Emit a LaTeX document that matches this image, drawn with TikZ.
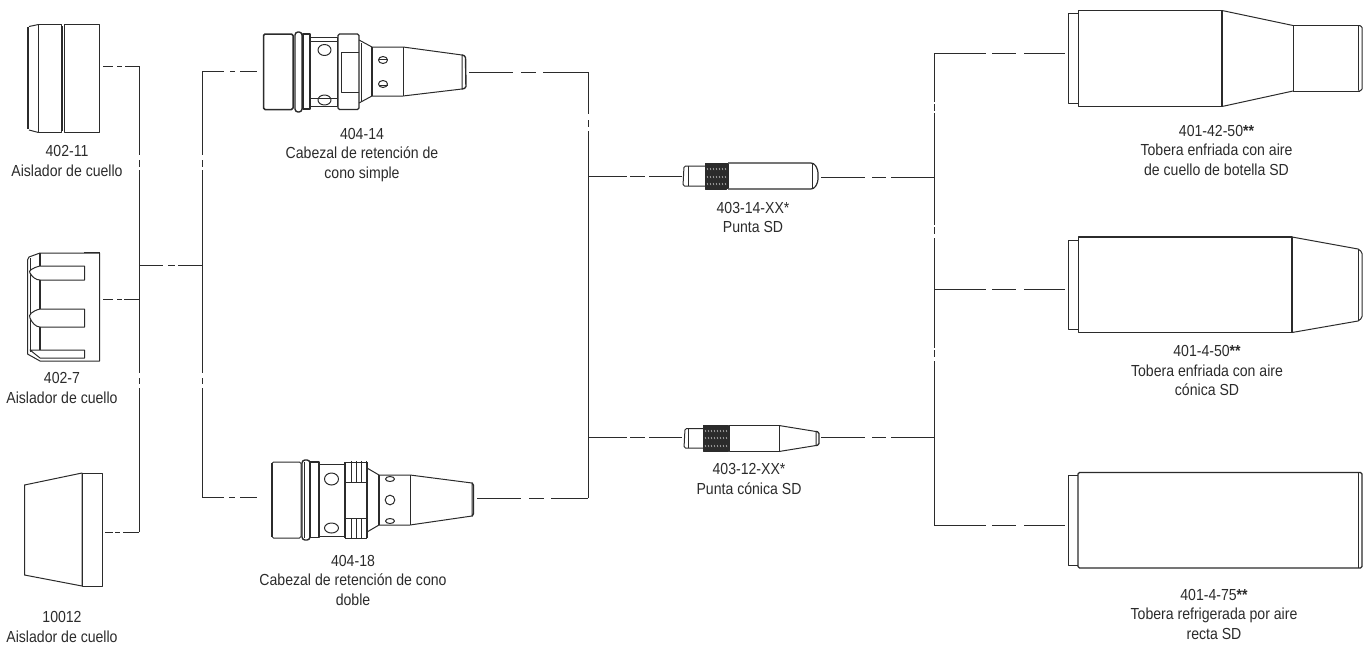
\documentclass[tikz,border=0pt]{standalone}
\usepackage{fontspec}
\setmainfont[FakeStretch=0.88]{Liberation Sans}
\usetikzlibrary{calc}
\definecolor{ink}{HTML}{2B2B2B}
\tikzset{
  cable/.style={ink,line width=.85pt},
  part/.style={ink,line width=1pt,line join=round},
  heavy/.style={ink,line width=1.9pt},
  tag/.style={align=center,text=ink,font=\fontsize{16}{19.5}\selectfont,inner sep=0pt},
  gapline/.style n args={4}{dash pattern=on #1pt off #2pt on #3pt off #4pt on 999pt},
  thread/.style={fill=ink,draw=ink,line width=.8pt}
}
\begin{document}
\begin{tikzpicture}[x=1pt,y=-1pt]
\useasboundingbox (0,0) rectangle (1367,646);
% connector ends
\coordinate(A) at (103,66);
\coordinate(B) at (103,299);
\coordinate(C) at (105,532);
\coordinate(Hs) at (257,71);
\coordinate(Hd) at (257,497);
\coordinate(HsR) at (469,72);
\coordinate(HdR) at (477,498);
\coordinate(PsL) at (682,176);
\coordinate(PcL) at (682,437);
\coordinate(PsR) at (821,177);
\coordinate(PcR) at (821,437);
\coordinate(Ta) at (1065,53);
\coordinate(Tb) at (1065,289);
\coordinate(Tc) at (1065,525.5);
\coordinate(J1t) at (139,66);
\coordinate(J1s) at (139,299);
\coordinate(J1m) at (139,265);
\coordinate(J1b) at (139,532);
\coordinate(J2t) at (202,71);
\coordinate(J2m) at (202,265);
\coordinate(J2b) at (202,497);
\coordinate(J3t) at (588,72);
\coordinate(J3a) at (588,176);
\coordinate(J3c) at (588,437);
\coordinate(J3b) at (588,498);
\coordinate(J4t) at (934,53);
\coordinate(J4a) at (934,177);
\coordinate(J4m) at (934,289);
\coordinate(J4c) at (934,437);
\coordinate(J4b) at (934,525.5);
% buses
\draw[cable,dash pattern=on 89pt off 5pt on 7pt off 3pt on 203pt off 5pt on 6pt off 4pt on 999pt] (J1t) -- (J1b);
\draw[cable,dash pattern=on 84pt off 5pt on 7pt off 3pt on 203pt off 5pt on 6pt off 4pt on 999pt] (J2t) -- (J2b);
\draw[cable,gapline={42}{6}{7}{4}] (J3t) -- (J3b);
\draw[cable,dash pattern=on 49pt off 2pt on 7pt off 2pt on 112pt off 2pt on 7pt off 4pt on 110pt off 2pt on 7pt off 4pt on 999pt] (J4t) -- (J4b);
% branches
\draw[cable,gapline={10}{4}{5}{3}] (A) -- (J1t);
\draw[cable,gapline={10}{4}{5}{2}] (B) -- (J1s);
\draw[cable,gapline={8}{2}{5}{3}] (C) -- (J1b);
\draw[cable,gapline={24}{5}{7}{3}] (J1m) -- (J2m);
\draw[cable,gapline={22}{6}{5}{5}] (J2t) -- (Hs);
\draw[cable,gapline={22}{5}{6}{5}] (J2b) -- (Hd);
\draw[cable,gapline={44}{8}{15}{7}] (HsR) -- (J3t);
\draw[cable,gapline={44}{8}{15}{7}] (HdR) -- (J3b);
\draw[cable,gapline={39}{3}{15}{4}] (J3a) -- (PsL);
\draw[cable,gapline={39}{3}{15}{4}] (J3c) -- (PcL);
\draw[cable,gapline={44}{7}{14}{5}] (PsR) -- (J4a);
\draw[cable,gapline={44}{7}{14}{5}] (PcR) -- (J4c);
\draw[cable,gapline={52}{6}{24}{8}] (J4t) -- (Ta);
\draw[cable,gapline={52}{6}{24}{8}] (J4m) -- (Tb);
\draw[cable,gapline={52}{6}{24}{8}] (J4b) -- (Tc);
% 402-11
\draw[part] (38.5,24.5) -- (61,24.5) -- (61,132.5) -- (38.5,132.5) -- cycle;
\draw[part] (64,24.5) rectangle (99.5,132.5);
\draw[part] (38.5,24.5) -- (29,26.5) (38.5,132.5) -- (29,130);
\draw[heavy] (27.8,27) -- (27.8,129);
\draw[heavy] (62.3,26) -- (62.3,131);
\draw[heavy] (99.5,25) -- (99.5,132);
% 402-7
\draw[part] (40,253) -- (29,257) -- (27.5,260) -- (27.5,354) -- (40,361) -- (99.5,361) -- (99.5,253) -- cycle;
\draw[part] (30,258) -- (30,352);
\draw[part] (84.5,253) -- (84.5,252) -- (99.5,252);
\draw[part,fill=white] (84.5,266) -- (40,266) .. controls (32,268) and (28,271) .. (30,273) .. controls (32,277) and (36,280) .. (40,280) -- (84.5,280) -- cycle;
\draw[part,fill=white] (84.5,309) -- (40,309) .. controls (32,311) and (28,315) .. (30,318) .. controls (32,323) and (36,327) .. (40,327) -- (84.5,327) -- cycle;
\draw[part,fill=white] (84.5,350) -- (30,350) -- (40,358) -- (84.5,358) -- cycle;
\draw[heavy] (40,253) -- (40,266) (40,280) -- (40,309) (40,327) -- (40,350);
\draw[heavy] (99.5,252) -- (99.5,361);
% 10012
\draw[part] (24.5,485) -- (82,473) -- (82,586) -- (24.5,575) -- cycle;
\draw[part] (82,473) rectangle (102.5,586);
% 404-14
\begin{scope}[part]
\draw[rounded corners=1.5pt,line width=1.5pt] (263.5,34) rectangle (293,109.5);
\draw[rounded corners=3pt,line width=1.4pt] (295,32) rectangle (302,112);
\draw[line width=1.4pt] (303,34) rectangle (310,109);
\draw (310,37) rectangle (337.5,106);
\draw (311,41) -- (337,41) (311,98) -- (337,98);
\draw (324.5,50) ellipse (6.5 and 5.5);
\draw (324.5,100) ellipse (6.5 and 5);
\draw[rounded corners=1.5pt,line width=1.4pt] (338,34) rectangle (359,109.5);
\draw (359,52) -- (341,52) -- (341,92) -- (359,92);
\draw (359,40) -- (372,47) (372,96) -- (359,103);
\draw (361,43) -- (361,101);
\draw[line width=1.4pt] (372,47) -- (372,96);
\draw (372,47) -- (403,47) -- (462,55) -- (462,89) -- (403,96) -- (372,96);
\draw (403,47) -- (403,96);
\draw[rounded corners=1.5pt,line width=1.4pt] (462,55) -- (465.5,56) -- (466,88) -- (462,89);
\draw (383,60) ellipse (4.5 and 3.5);
\draw (383,84) ellipse (4.5 and 3.5);
\draw (378.5,59) -- (387.5,59) (378.5,85) -- (387.5,85);
\end{scope}
% 404-18
\begin{scope}[part]
\draw[rounded corners=1.5pt] (272,462) rectangle (301,538);
\draw[heavy] (272,463) -- (272,537);
\draw[rounded corners=3pt,line width=1.4pt] (302,460) rectangle (310,540);
\draw (304.5,462) -- (304.5,538);
\draw[line width=1.4pt] (310,462) rectangle (319,537.5);
\draw (319,464) rectangle (345,536);
\draw (331.5,479) ellipse (7 and 6);
\draw (331.5,528) ellipse (7 and 5);
\draw[line width=1.4pt] (345,462) -- (345,538);
\foreach \xr in {351,356,361,366} {
  \draw (\xr,461) -- (\xr,482) (\xr,518) -- (\xr,539);
}
\draw (345,462) -- (367,462) (345,538) -- (367,538);
\draw (345,482) -- (367,482) (345,518) -- (367,518);
\draw[line width=1.4pt] (367,462) -- (367,538);
\draw (367,468) -- (379,475) (379,525) -- (367,532);
\draw[line width=1.4pt] (379,475) -- (379,525);
\draw (379,475) -- (410,475) -- (472,483) -- (472,516) -- (410,525) -- (379,525);
\draw (410,475) -- (410,525);
\draw[rounded corners=1.5pt,line width=1.4pt] (472,483) -- (473.5,484) -- (473.5,515) -- (472,516);
\draw (390,479) ellipse (4.5 and 2.5);
\draw (390,500) ellipse (4.8 and 4.8);
\draw (390,521) ellipse (4.5 and 2.5);
\end{scope}
% 403-14
\begin{scope}[part]
\draw[rounded corners=1.5pt] (705,166) -- (684,166) -- (683,186) -- (705,186);
\draw (688,166) -- (688,186);
\draw[thread] (705,163) rectangle (726,189);
\foreach \tx in {707,710,...,725} {
  \draw[white,line width=.35pt] (\tx,168) -- (\tx+1,170) (\tx,176) -- (\tx+1,178) (\tx,183) -- (\tx+1,185);
}
\draw[line width=1.4pt] (726,164) -- (728,164) -- (728,188) -- (726,188);
\draw[rounded corners=3pt,line width=1.2pt] (728,163) -- (814,163) -- (818,170) -- (818,182) -- (814,189) -- (728,189);
\draw (812,163) -- (812,189);
\end{scope}
% 403-12
\begin{scope}[part]
\draw[rounded corners=1.5pt] (703,428.5) -- (685,428.5) -- (684,448) -- (703,448);
\draw (688,428.5) -- (688,448);
\draw[thread] (703,425.5) rectangle (728,451);
\foreach \tx in {705,708,...,727} {
  \draw[white,line width=.35pt] (\tx,430) -- (\tx+1,432) (\tx,437) -- (\tx+1,439) (\tx,445) -- (\tx+1,447);
}
\draw (729,425.5) rectangle (779,451.5);
\draw (779,425.5) -- (816,431.5) -- (816,445.5) -- (779,451.5);
\draw[rounded corners=1.5pt,line width=1.3pt] (816,431.5) -- (819,432) -- (819,445) -- (816,445.5);
\end{scope}
% 401-42-50
\draw[part] (1078.5,13) -- (1068.5,13) -- (1068.5,103.5) -- (1078.5,103.5);
\draw[part,line width=1.3pt] (1078.5,10.5) rectangle (1222,106.5);
\draw[part] (1222,10.5) -- (1293,25.5) (1222,106.5) -- (1293,91);
\draw[part] (1293,25.5) -- (1293,91);
\draw[part] (1293,25.5) -- (1360,25.5) (1293,91) -- (1360,91);
\draw[part,rounded corners=1.5pt] (1358,25.5) -- (1362,26) -- (1362,90.5) -- (1358,91);
\draw[part] (1358,26) -- (1358,90);
% 401-4-50
\draw[part] (1078.5,240) -- (1068,240) -- (1068,329) -- (1078.5,329);
\draw[part,line width=1.3pt] (1078.5,237) rectangle (1292,332.5);
\draw[heavy] (1292,237) -- (1292,332.5);
\draw[part] (1292,237) -- (1358,249) (1292,332.5) -- (1358,321);
\draw[part,rounded corners=1.5pt] (1358,249) -- (1362,252) -- (1362,318) -- (1358,321);
\draw[part] (1358,250) -- (1358,320);
% 401-4-75
\draw[part] (1078,475.5) -- (1068,475.5) -- (1068,565) -- (1078,565);
\draw[part,rounded corners=1.5pt,line width=1.3pt] (1078,472.5) rectangle (1362,568);
\draw[part] (1358,473) -- (1358,567.5);
% labels
\node[tag] (Lb11) at (67,161) {402-11\\Aislador de cuello};
\node[tag] (Lb7) at (62,388) {402-7\\Aislador de cuello};
\node[tag] (Lb12) at (62,627) {10012\\Aislador de cuello};
\node[tag] (LbHs) at (362,155) {404-14\\Cabezal de retención de\\cono simple};
\node[tag] (LbHd) at (353,580) {404-18\\Cabezal de retención de cono\\doble};
\node[tag] (LbPs) at (753,217.5) {403-14-XX*\\Punta SD};
\node[tag] (LbPc) at (749,479) {403-12-XX*\\Punta cónica SD};
\node[tag] (LbTa) at (1216.5,150) {401-42-50\textbf{**}\\Tobera enfriada con aire\\de cuello de botella SD};
\node[tag] (LbTb) at (1207,370.5) {401-4-50\textbf{**}\\Tobera enfriada con aire\\cónica SD};
\node[tag] (LbTc) at (1214,614) {401-4-75\textbf{**}\\Tobera refrigerada por aire\\recta SD};
\end{tikzpicture}
\end{document}
